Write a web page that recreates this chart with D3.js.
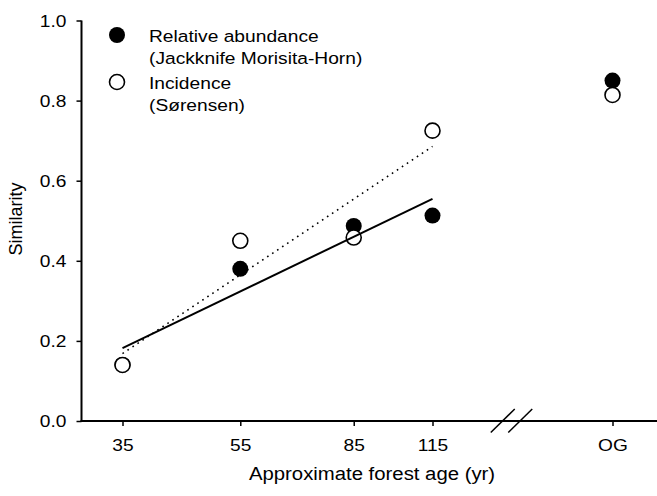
<!DOCTYPE html>
<html>
<head>
<meta charset="utf-8">
<script src="https://cdn.jsdelivr.net/npm/d3@7"></script>
<style>
  body { margin: 0; background: #fff; }
  svg { display: block; }
  text { font-family: "Liberation Sans", Arial, sans-serif; fill: #000; }
</style>
</head>
<body>
<div id="chart"></div>
<script>
"use strict";

// data
var ages = [35, 55, 85, 115];
var abundance = [0.14, 0.38, 0.487, 0.513];   // Jackknife Morisita-Horn
var incidence = [0.14, 0.45, 0.458, 0.725];   // Sørensen
var ogLabel = ["OG"];
var ogAbundance = [0.85];
var ogIncidence = [0.814];
var yTicks = [0, 0.2, 0.4, 0.6, 0.8, 1.0];
var legendLabels = [["Relative abundance", "(Jackknife Morisita-Horn)"], ["Incidence", "(Sørensen)"]];

var W = 657, H = 496;
var sx = 1.13; // text in the figure is slightly wide

var svg = d3.select('#chart').append('svg').attr('width', W).attr('height', H);

var x = d3.scaleLog().domain([35, 115]).range([122.5, 432.5]);
var xOG = d3.scalePoint().domain(ogLabel).range([568, 657]);
var y = d3.scaleLinear().domain([0, 1]).range([421, 20.5]);

// least squares on log(age), same as the fitted lines in the figure
function fit(vals) {
  var lx = ages.map(function (a) { return Math.log(a); });
  var mx = d3.mean(lx), my = d3.mean(vals);
  var sxy = d3.sum(lx, function (v, i) { return (v - mx) * (vals[i] - my); });
  var sxx = d3.sum(lx, function (v) { return (v - mx) * (v - mx); });
  var b = sxy / sxx;
  return d3.extent(ages).map(function (a) { return [a, my + b * (Math.log(a) - mx)]; });
}

// axes
var yAxis = svg.append('g').attr('transform', 'translate(81.5,0)')
  .call(d3.axisLeft(y).tickValues(yTicks).tickFormat(d3.format('.1f')).tickSize(5).tickSizeOuter(0));
yAxis.select('.domain').remove();
yAxis.append('line').attr('x1', 0).attr('x2', 0).attr('y1', y(1)).attr('y2', y(0) + 1)
  .attr('stroke', '#000').attr('stroke-width', 2);
yAxis.selectAll('.tick line').attr('stroke-width', 1.5);
yAxis.selectAll('.tick text').attr('font-size', 17).attr('x', -15 / sx).attr('dy', '0.35em')
  .attr('transform', 'scale(' + sx + ',1)');

var xAxis = svg.append('g').attr('transform', 'translate(0,421)')
  .call(d3.axisBottom(x).tickValues(ages).tickFormat(d3.format('d')).tickSize(5).tickSizeOuter(0));
var xAxis2 = svg.append('g').attr('transform', 'translate(0,421)')
  .call(d3.axisBottom(xOG).tickSize(5).tickSizeOuter(0));
[xAxis, xAxis2].forEach(function (g) {
  g.select('.domain').remove();
  g.selectAll('.tick line').attr('stroke-width', 1.5);
  g.selectAll('.tick text').attr('font-size', 17).attr('y', 30).attr('dy', 0)
    .attr('transform', 'scale(' + sx + ',1)');
});
svg.append('line').attr('x1', 80.5).attr('x2', W).attr('y1', 421).attr('y2', 421)
  .attr('stroke', '#000').attr('stroke-width', 2);

// axis break
var bx = x(115) + 79;
[-8.75, 8.75].forEach(function (o) {
  svg.append('line')
    .attr('x1', bx + o - 12).attr('y1', 432.5).attr('x2', bx + o + 12).attr('y2', 409)
    .attr('stroke', '#000').attr('stroke-width', 1.5);
});

// axis titles
svg.append('text').attr('transform', 'translate(372,480) scale(' + sx + ',1)')
  .attr('text-anchor', 'middle').attr('font-size', 18).text('Approximate forest age (yr)');
svg.append('text').attr('transform', 'translate(21.5,219) rotate(-90)')
  .attr('text-anchor', 'middle').attr('font-size', 18).text('Similarity');

// points: filled first, open ones drawn over them
var pts = svg.append('g');
pts.selectAll('.fill').data(abundance).enter().append('circle')
  .attr('cx', function (d, i) { return x(ages[i]); }).attr('cy', function (d) { return y(d); })
  .attr('r', 8).attr('fill', '#000');
pts.selectAll('.fillog').data(ogAbundance).enter().append('circle')
  .attr('cx', function (d, i) { return xOG(ogLabel[i]); }).attr('cy', function (d) { return y(d); })
  .attr('r', 8).attr('fill', '#000');
pts.selectAll('.open').data(incidence).enter().append('circle')
  .attr('cx', function (d, i) { return x(ages[i]); }).attr('cy', function (d) { return y(d); })
  .attr('r', 7.5).attr('fill', '#fff').attr('stroke', '#000').attr('stroke-width', 1.6);
pts.selectAll('.openog').data(ogIncidence).enter().append('circle')
  .attr('cx', function (d, i) { return xOG(ogLabel[i]); }).attr('cy', function (d) { return y(d); })
  .attr('r', 7.5).attr('fill', '#fff').attr('stroke', '#000').attr('stroke-width', 1.6);

// fitted lines
var line = d3.line().x(function (d) { return x(d[0]); }).y(function (d) { return y(d[1]); });
svg.append('path').datum(fit(abundance)).attr('d', line)
  .attr('fill', 'none').attr('stroke', '#000').attr('stroke-width', 2);
svg.append('path').datum(fit(incidence)).attr('d', line)
  .attr('fill', 'none').attr('stroke', '#000').attr('stroke-width', 1.6)
  .attr('stroke-dasharray', '1.6,4.4');

// legend
var leg = svg.append('g').attr('transform', 'translate(117,35)');
legendLabels.forEach(function (lab, i) {
  var g = leg.append('g').attr('transform', 'translate(0,' + i * 47 + ')');
  if (i === 0) g.append('circle').attr('r', 8).attr('fill', '#000');
  else g.append('circle').attr('r', 7.5).attr('fill', '#fff').attr('stroke', '#000').attr('stroke-width', 1.6);
  lab.forEach(function (t, j) {
    g.append('text').attr('transform', 'translate(32,' + (6.5 + j * 22) + ') scale(' + sx + ',1)')
      .attr('font-size', 17).text(t);
  });
});
</script>
</body>
</html>
